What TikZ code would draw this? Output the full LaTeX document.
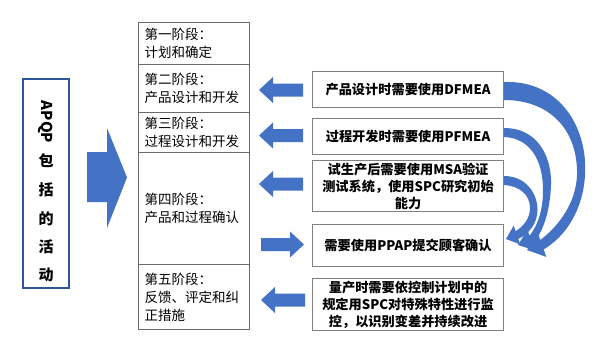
\documentclass[tikz,border=0pt]{standalone}
\usepackage{fontspec}
\setmainfont{Noto Sans CJK SC}
\definecolor{arrblue}{HTML}{4472C4}
\definecolor{boxblue}{HTML}{2F5597}
\definecolor{boxgray}{HTML}{6A6A6A}
\tikzset{
 stagebox/.style={draw=boxgray, line width=1.1pt, anchor=north west, minimum width=111pt, text width=99pt, inner xsep=6pt, inner ysep=0pt, align=left, font=\fontsize{13.5}{18}\selectfont},
 notebox/.style={draw=boxgray!85, line width=1.1pt, anchor=north west, minimum width=191pt, text width=185pt, inner xsep=3pt, inner ysep=0pt, align=center, font=\bfseries\fontsize{13.2}{17}\selectfont},
 vchar/.style={font=\bfseries\fontsize{15}{15}\selectfont, inner sep=0pt},
 larr/.pic={\fill[arrblue] (0,0) -- (14,-13) -- (14,-6.5) -- (44,-6.5) -- (44,6.5) -- (14,6.5) -- (14,13) -- cycle;},
 rarr/.pic={\fill[arrblue] (0,0) -- (-14,-13) -- (-14,-6.5) -- (-43,-6.5) -- (-43,6.5) -- (-14,6.5) -- (-14,13) -- cycle;},
}
\begin{document}
\begin{tikzpicture}[x=1pt,y=-1pt]
\useasboundingbox[fill=white] (0,0) rectangle (600,357);
% APQP box
\node[draw=boxblue, line width=1.6pt, minimum width=46pt, minimum height=209pt, inner sep=0pt] (apqp) at (46,183.5) {};
\node[vchar, rotate=-90] (t0) at (46,122) {APQP};
\node[vchar] (t1) at (46,161) {包};
\node[vchar] (t2) at (46,190) {括};
\node[vchar] (t3) at (46,219) {的};
\node[vchar] (t4) at (46,247) {活};
\node[vchar] (t5) at (46,275) {动};
% big arrow
\fill[arrblue] (87,152) -- (107,152) -- (107,128) -- (127,177.5) -- (107,228) -- (107,202) -- (87,202) -- cycle;
% stage boxes
\node[stagebox, minimum height=42pt] (s1) at (138,22) {第一阶段：\\计划和确定};
\node[stagebox, minimum height=48pt] (s2) at (138,64) {第二阶段：\\产品设计和开发};
\node[stagebox, minimum height=40pt] (s3) at (138,112) {第三阶段：\\过程设计和开发};
\node[stagebox, minimum height=112pt] (s4) at (138,152) {第四阶段：\\产品和过程确认};
\node[stagebox, minimum height=65pt] (s5) at (138,264) {第五阶段：\\反馈、评定和纠\\正措施};
% note boxes
\node[notebox, minimum height=36pt] (n1) at (312,71) {产品设计时需要使用DFMEA};
\node[notebox, minimum height=36pt] (n2) at (312,118) {过程开发时需要使用PFMEA};
\node[notebox, minimum height=51pt] (n3) at (312,160) {试生产后需要使用MSA验证\\测试系统，使用SPC研究初始\\能力};
\node[notebox, minimum height=42pt] (n4) at (312,224) {需要使用PPAP提交顾客确认};
\node[notebox, minimum height=52pt] (n5) at (312,278) {量产时需要依控制计划中的\\规定用SPC对特殊特性进行监\\控，以识别变差并持续改进};
% straight arrows
\pic at (259,90) {larr};
\pic at (259,135.5) {larr};
\pic at (259,184) {larr};
\pic at (304,244.5) {rarr};
\pic at (261,300) {larr};
% curved arrows
\fill[arrblue] (504,82) .. controls (560,80) and (588,128) .. (585,175)
  .. controls (583,210) and (566,236) .. (543.7,249.4)
  -- (546.3,256.9) -- (527,250) -- (537.7,232.5) -- (540.3,240)
  .. controls (560,225) and (576,202) .. (577,175)
  .. controls (578,130) and (550,100) .. (504,100) -- cycle;
\fill[arrblue] (504,128) .. controls (540,128) and (552,160) .. (551,185)
  .. controls (550,212) and (543,232) .. (532.5,244.2)
  -- (534.6,250.3) -- (518,245) -- (527.4,229.7) -- (529.5,235.8)
  .. controls (538,225) and (543,210) .. (543,190)
  .. controls (543,160) and (530,138) .. (504,137) -- cycle;
\fill[arrblue] (504,176) .. controls (530,176) and (540,200) .. (537,215)
  .. controls (535,228) and (525,236) .. (518.3,238.8)
  -- (520.3,244.4) -- (506,239) -- (513.7,225.6) -- (515.7,231.2)
  .. controls (524,226) and (530,218) .. (530,208)
  .. controls (530,195) and (520,186) .. (504,185) -- cycle;
\end{tikzpicture}
\end{document}
